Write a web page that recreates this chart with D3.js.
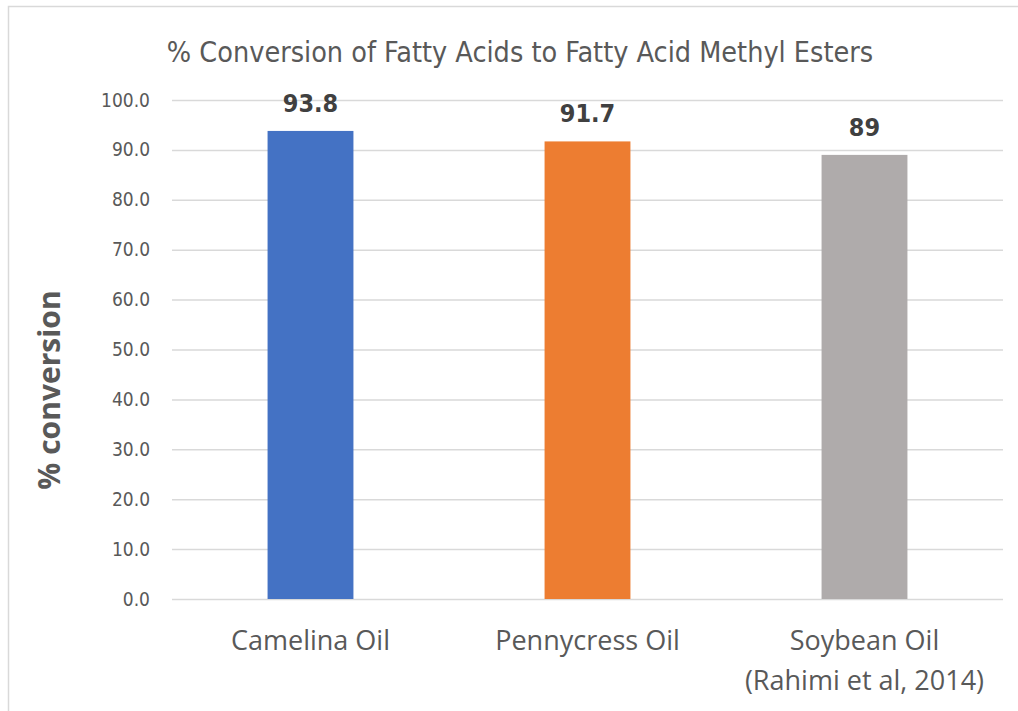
<!DOCTYPE html>
<html>
<head>
<meta charset="utf-8">
<script src="https://cdn.jsdelivr.net/npm/d3@7"></script>
<style>
  html, body { margin: 0; padding: 0; background: #fff; }
  svg { display: block; }
</style>
</head>
<body>
<svg id="chart" width="1018" height="711"></svg>
<script>
// Oil sources and their FAME conversion (%)
const categories = ["Camelina Oil", "Pennycress Oil", "Soybean Oil\n(Rahimi et al, 2014)"];
const conversion = [93.8, 91.7, 89];
const valueLabels = ["93.8", "91.7", "89"];
const barColors = ["#4472c4", "#ed7d31", "#afabab"];
const yTicks = [0, 10, 20, 30, 40, 50, 60, 70, 80, 90, 100];

const svg = d3.select("#chart");
const W = 1018, H = 711;
const margin = { top: 100, right: 15, bottom: 112, left: 172 };
const innerW = W - margin.left - margin.right;
const innerH = H - margin.top - margin.bottom;
const narrow = "'Liberation Sans Narrow', 'DejaVu Sans Condensed', sans-serif";

// chart-area frame
svg.append("rect")
  .attr("x", 8.5).attr("y", 6.5)
  .attr("width", W + 20).attr("height", H + 20)
  .attr("fill", "none").attr("stroke", "#d9d9d9").attr("stroke-width", 1.5);

const g = svg.append("g").attr("transform", `translate(${margin.left},${margin.top})`);

const x = d3.scaleBand().domain(categories).range([0, innerW]).paddingInner(0.69).paddingOuter(0.345);
const y = d3.scaleLinear().domain([0, 100]).range([innerH, 0]);

// gridlines + tick labels
const yAxis = d3.axisLeft(y).tickValues(yTicks).tickSize(-innerW).tickPadding(22)
  .tickFormat(d3.format(".1f"));
const ya = g.append("g").call(yAxis);
ya.select(".domain").remove();
ya.selectAll(".tick line").attr("stroke", "#d9d9d9").attr("stroke-width", 1.5);
ya.selectAll(".tick text")
  .attr("fill", "#595959")
  .style("font-family", narrow)
  .style("font-size", "19px");

// bars
g.selectAll(".bar").data(categories).enter().append("rect")
  .attr("class", "bar")
  .attr("x", d => x(d))
  .attr("y", (d, i) => y(conversion[i]))
  .attr("width", x.bandwidth())
  .attr("height", (d, i) => innerH - y(conversion[i]))
  .attr("fill", (d, i) => barColors[i]);

// value labels
g.selectAll(".vlabel").data(categories).enter().append("text")
  .attr("x", d => x(d) + x.bandwidth() / 2)
  .attr("y", (d, i) => y(conversion[i]) - 19)
  .attr("text-anchor", "middle")
  .attr("fill", "#404040")
  .style("font-family", narrow)
  .style("font-weight", "bold")
  .style("font-size", "25px")
  .text((d, i) => valueLabels[i]);

// category labels
const xa = g.append("g").attr("transform", `translate(0,${innerH})`);
categories.forEach(c => {
  const t = xa.append("text")
    .attr("x", x(c) + x.bandwidth() / 2)
    .attr("y", 51)
    .attr("text-anchor", "middle")
    .attr("fill", "#595959")
    .style("font-family", "'Open Sans', sans-serif")
    .style("font-size", "27px");
  c.split("\n").forEach((line, k) => {
    t.append("tspan").attr("x", x(c) + x.bandwidth() / 2).attr("dy", k === 0 ? 0 : 40).text(line);
  });
});

// title
svg.append("text")
  .attr("x", 520).attr("y", 62)
  .attr("text-anchor", "middle")
  .attr("fill", "#595959")
  .style("font-family", narrow)
  .style("font-size", "28.5px")
  .text("% Conversion of Fatty Acids to Fatty Acid Methyl Esters");

// y-axis title
svg.append("text")
  .attr("transform", `translate(60,390) rotate(-90)`)
  .attr("text-anchor", "middle")
  .attr("fill", "#595959")
  .style("font-family", "'Open Sans', sans-serif")
  .style("font-weight", "bold")
  .style("font-size", "30px")
  .text("% conversion");
</script>
</body>
</html>
